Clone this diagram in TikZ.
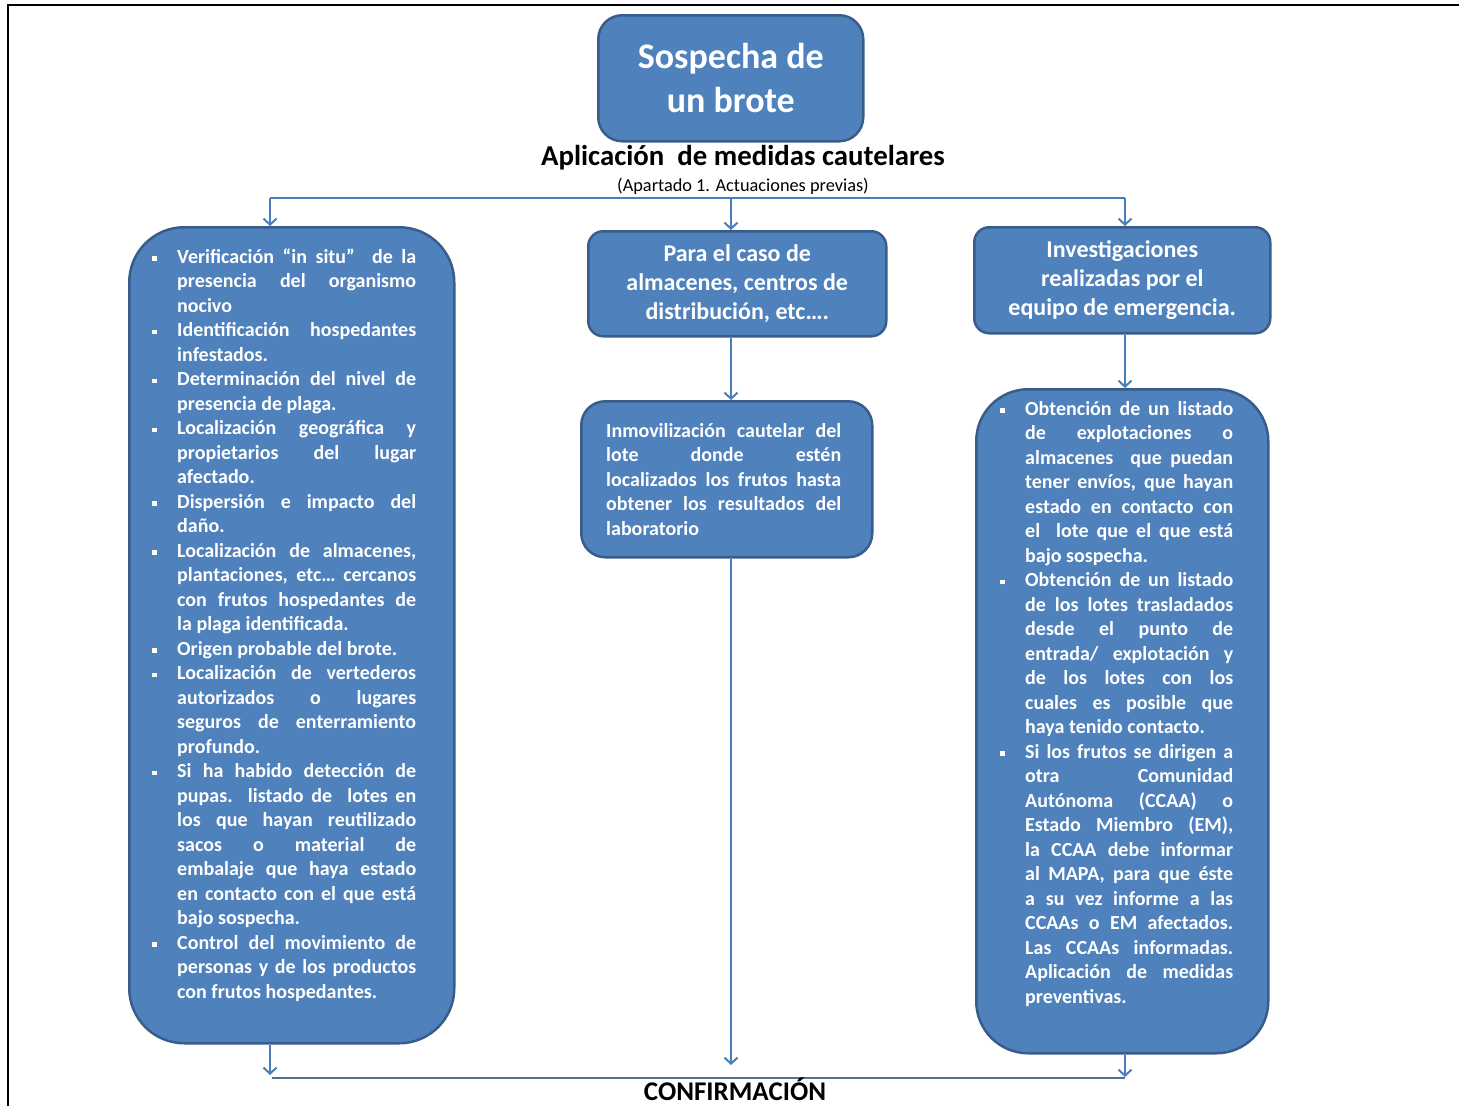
\documentclass[tikz,border=0pt]{standalone}
\usepackage{fontspec}
\setmainfont{Carlito}
\usetikzlibrary{arrows.meta,calc}

\definecolor{boxfill}{HTML}{4F81BD}
\definecolor{boxedge}{HTML}{385D8A}
\definecolor{link}{HTML}{4A7EBB}
\definecolor{confline}{HTML}{52718F}

% width of the justified lines inside the current text block
\newlength\tw
% a justified line, a last (ragged) line, and the square bullet hung in the margin
\newcommand\jline[1]{\makebox[\tw][s]{\strut#1}}
\newcommand\eline[1]{\makebox[\tw][l]{\strut#1}}
\newcommand\bul{\llap{\raisebox{2.5pt}{\rule{4.5pt}{4.5pt}}\hspace{20.5pt}}}

\tikzset{
  set tw/.code={\global\tw=#1\relax},
  box/.style={draw=boxedge, line width=2.5pt, fill=boxfill, inner sep=0pt, anchor=north west},
  head/.style={text=white, align=center, font=\fontsize{24}{29}\selectfont\bfseries},
  txt/.style={text=white, inner sep=0pt, anchor=north west, align=left,
    font=\fontsize{20}{24.5}\selectfont\bfseries},
  arr/.style={draw=link, line width=2pt, -{Straight Barb[length=6pt,width=13pt,line width=2pt]}},
  rail/.style={draw=link, line width=2pt},
  baseline rail/.style={draw=confline, line width=2.5pt},
}

\begin{document}
\begin{tikzpicture}[x=1pt, y=-1pt]
\useasboundingbox (0,0) rectangle (1459,1106);

% page frame
\draw[line width=2.2pt] (8,1106) -- (8,5) -- (1459,5);

% heading box and captions
\node[box, rounded corners=24pt, minimum width=265pt, minimum height=126pt,
      text=white, align=center, font=\fontsize{36}{44}\selectfont\bfseries]
      (top) at (597,14) {Sospecha de\\un brote};
\node[font=\fontsize{28.8}{34}\selectfont\bfseries, inner sep=0pt] (ttl) at (743,158)
      {Aplicación\ \ de medidas cautelares};
\node[font=\fontsize{18.3}{20}\selectfont, inner sep=0pt] (sub) at (743,186)
      {(Apartado 1. Actuaciones previas)};

% three columns
\node[box, rounded corners=55pt, minimum width=325pt, minimum height=816pt] (L) at (128,226) {};
\node[box, rounded corners=15pt, minimum width=298pt, minimum height=105pt, head] (M1) at (587,230)
      {Para el caso de\\almacenes, centros de\\distribución, etc….};
\node[box, rounded corners=24pt, minimum width=291pt, minimum height=156pt] (M2) at (580,400) {};
\node[box, rounded corners=15pt, minimum width=296pt, minimum height=106pt, head] (R1) at (973,226)
      {Investigaciones\\realizadas por el\\equipo de emergencia.};
\node[box, rounded corners=52pt, minimum width=292pt, minimum height=664pt] (R2) at (975,388) {};

% left column text
\node[txt, set tw=239pt] (Ltx) at (177,246) {%
\jline{\bul Verificación “in situ”\ \ de la}\\
\jline{presencia del organismo}\\
\eline{nocivo}\\
\jline{\bul Identificación hospedantes}\\
\eline{infestados.}\\
\jline{\bul Determinación del nivel de}\\
\eline{presencia de plaga.}\\
\jline{\bul Localización geográfica y}\\
\jline{propietarios del lugar}\\
\eline{afectado.}\\
\jline{\bul Dispersión e impacto del}\\
\eline{daño.}\\
\jline{\bul Localización de almacenes,}\\
\jline{plantaciones, etc… cercanos}\\
\jline{con frutos hospedantes de}\\
\eline{la plaga identificada.}\\
\eline{\bul Origen probable del brote.}\\
\jline{\bul Localización de vertederos}\\
\jline{autorizados o lugares}\\
\jline{seguros de enterramiento}\\
\eline{profundo.}\\
\jline{\bul Si ha habido detección de}\\
\jline{pupas. listado de\ \ lotes en}\\
\jline{los que hayan reutilizado}\\
\jline{sacos o material de}\\
\jline{embalaje que haya estado}\\
\jline{en contacto con el que está}\\
\eline{bajo sospecha.}\\
\jline{\bul Control del movimiento de}\\
\jline{personas y de los productos}\\
\eline{con frutos hospedantes.}};

% middle column text
\node[txt, set tw=235pt] (Mtx) at (606,420) {%
\jline{Inmovilización cautelar del}\\
\jline{lote donde estén}\\
\jline{localizados los frutos hasta}\\
\jline{obtener los resultados del}\\
\eline{laboratorio}};

% right column text
\node[txt, set tw=208pt] (Rtx) at (1025,398) {%
\jline{\bul Obtención de un listado}\\
\jline{de explotaciones o}\\
\jline{almacenes\ \ que puedan}\\
\jline{tener envíos, que hayan}\\
\jline{estado en contacto con}\\
\jline{el\ \ lote que el que está}\\
\eline{bajo sospecha.}\\
\jline{\bul Obtención de un listado}\\
\jline{de los lotes trasladados}\\
\jline{desde el punto de}\\
\jline{entrada/ explotación y}\\
\jline{de los lotes con los}\\
\jline{cuales es posible que}\\
\eline{haya tenido contacto.}\\
\jline{\bul Si los frutos se dirigen a}\\
\jline{otra Comunidad}\\
\jline{Autónoma (CCAA) o}\\
\jline{Estado Miembro (EM),}\\
\jline{la CCAA debe informar}\\
\jline{al MAPA, para que éste}\\
\jline{a su vez informe a las}\\
\jline{CCAAs o EM afectados.}\\
\jline{Las CCAAs informadas.}\\
\jline{Aplicación de medidas}\\
\eline{preventivas.}};

% connectors
\coordinate (cl) at (270,198);
\coordinate (cm) at (731,198);
\coordinate (cr) at (1125,198);
\coordinate (bl) at (270,1078);
\coordinate (bm) at (731,1065);
\coordinate (br) at (1125,1078);

\draw[rail] (cl) -- (cr);
\draw[arr] (cl) -- (cl |- L.north);
\draw[arr] (cm) -- (cm |- M1.north);
\draw[arr] (cr) -- (cr |- R1.north);
\draw[arr] (cm |- M1.south) -- (cm |- M2.north);
\draw[arr] (cr |- R1.south) -- (cr |- R2.north);

\draw[arr] (cl |- L.south) -- ([yshift=3pt]bl);
\draw[arr] (cm |- M2.south) -- (bm);
\draw[arr] (cr |- R2.south) -- ([yshift=1pt]br);
\draw[baseline rail] ([xshift=2pt]bl) -- (br);

\node[font=\fontsize{27}{32}\selectfont\bfseries, inner sep=0pt] (conf) at (735,1089) {CONFIRMACIÓN};
\end{tikzpicture}
\end{document}
